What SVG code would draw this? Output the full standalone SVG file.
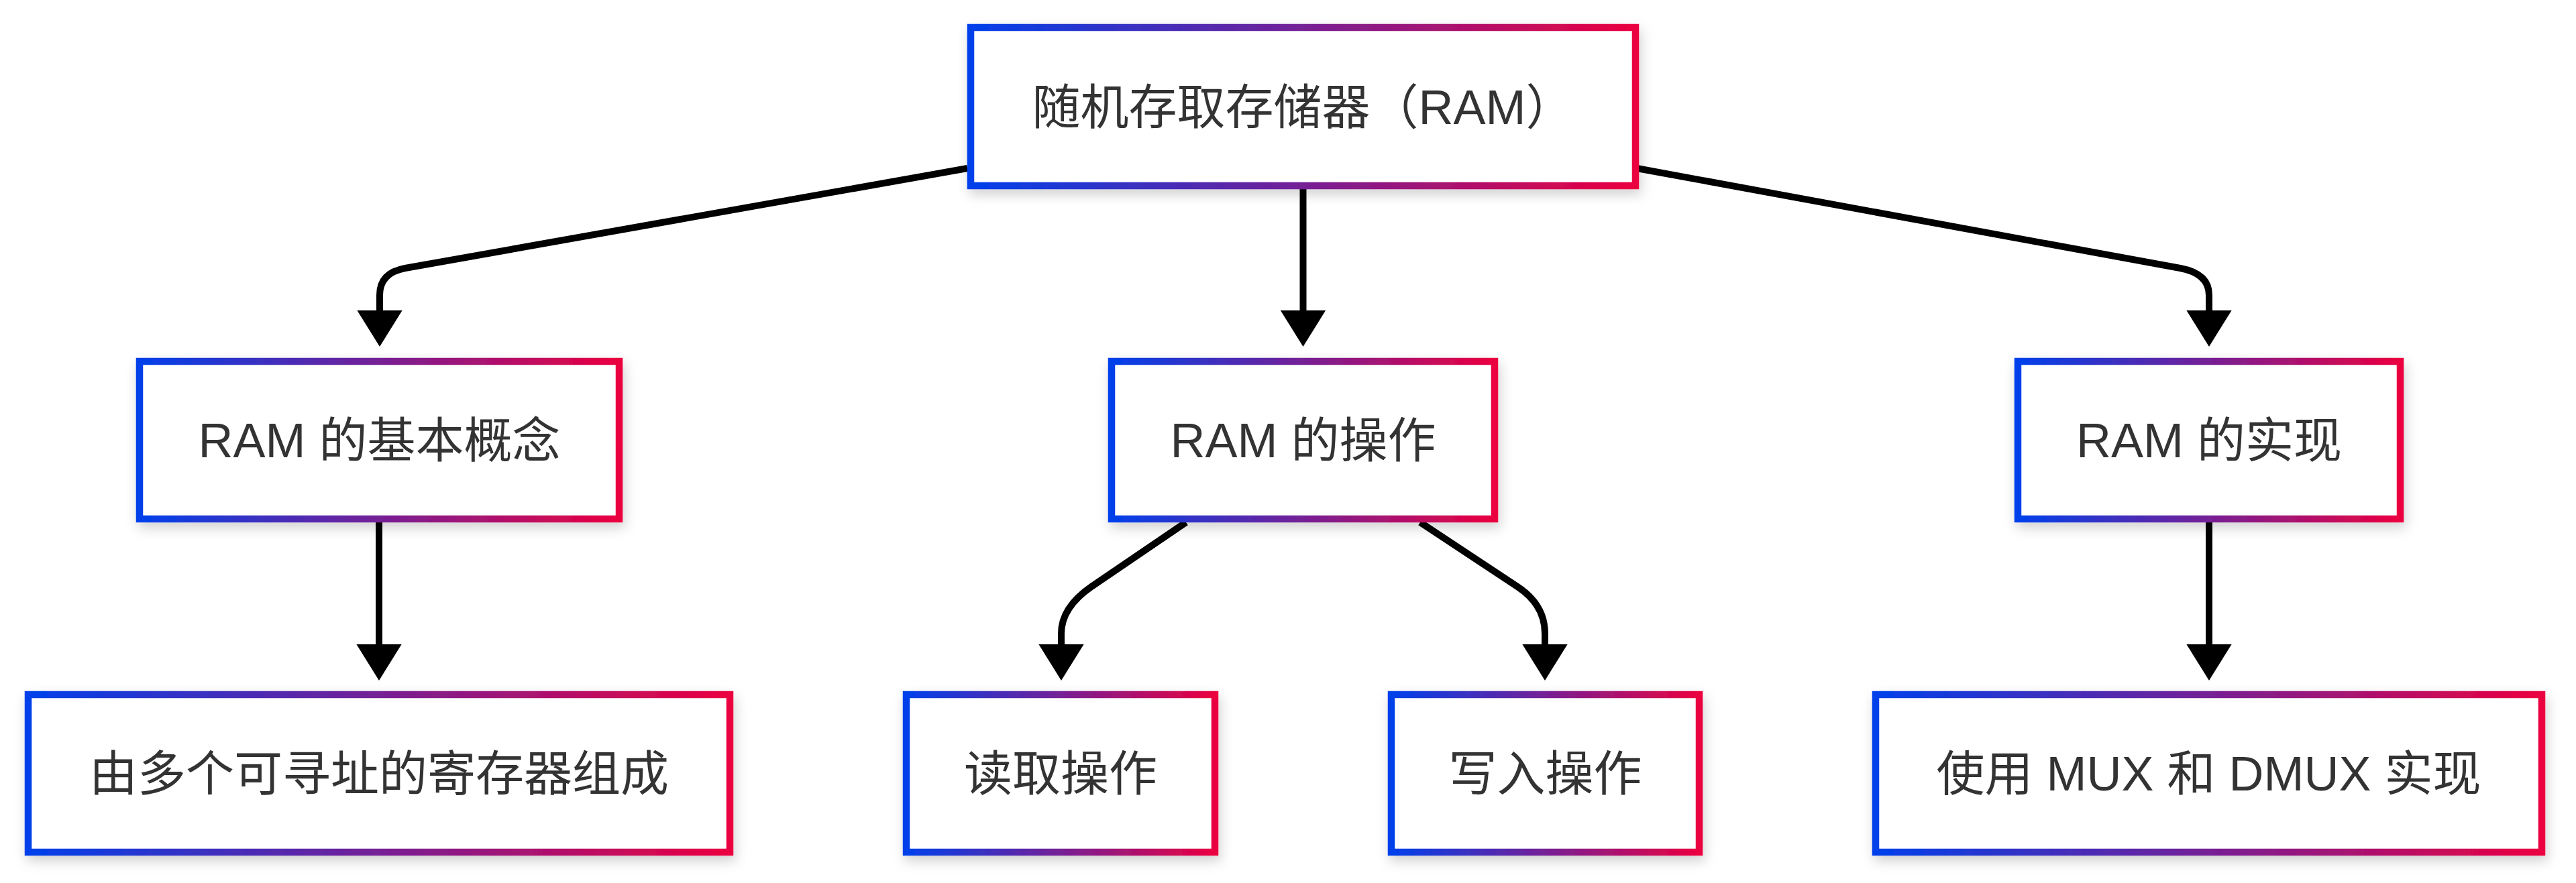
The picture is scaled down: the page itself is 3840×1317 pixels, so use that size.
<svg xmlns="http://www.w3.org/2000/svg" width="3840" height="1317" viewBox="0 0 3840 1317">
<style>
.box{fill:#ffffff;stroke:url(#grad);stroke-width:10.5;filter:url(#shadow)}
.lbl{font-family:"Liberation Sans","Noto Sans CJK SC",sans-serif;font-size:72px;fill:#333333;text-anchor:middle}
.edge{fill:none;stroke:#000000;stroke-width:10;marker-end:url(#arrow)}
</style>
<defs>
<linearGradient id="grad" x1="0" y1="0" x2="1" y2="0">
<stop offset="0" stop-color="#0040EB"/>
<stop offset="1" stop-color="#EB0040"/>
</linearGradient>
<filter id="shadow" x="-10%" y="-20%" width="120%" height="150%">
<feDropShadow dx="3" dy="8" stdDeviation="9" flood-color="#000000" flood-opacity="0.18"/>
</filter>
<marker id="arrow" markerUnits="userSpaceOnUse" markerWidth="54" markerHeight="68" viewBox="0 0 53 66" refX="0" refY="33" orient="auto">
<path d="M0,0 L53,33 L0,66 Z" fill="#000000"/>
</marker>
</defs>
<rect width="3840" height="1317" fill="#ffffff"/>
<g id="connectors">
<path class="edge" d="M1442,251 L604,400 Q566,407 566,440 L566,463"/>
<path class="edge" d="M1942.5,282 L1942.5,463"/>
<path class="edge" d="M2440,251 L3250,400 Q3293,408 3293,440 L3293,463"/>
<path class="edge" d="M565,779 L565,961"/>
<path class="edge" d="M1768,779 L1627,875 Q1582,906 1582,945 L1582,961"/>
<path class="edge" d="M2117,779 L2262,875 Q2303,902 2303,945 L2303,961"/>
<path class="edge" d="M3293,779 L3293,961"/>
</g>
<g id="root">
<rect class="box" x="1447" y="41" width="991" height="236"/>
<text class="lbl" x="1942.5" y="185">随机存取存储器（RAM）</text>
</g>
<g id="concept">
<rect class="box" x="208" y="539" width="715" height="235"/>
<text class="lbl" x="565.5" y="682">RAM 的基本概念</text>
</g>
<g id="ops">
<rect class="box" x="1657" y="539" width="571" height="235"/>
<text class="lbl" x="1942.5" y="682">RAM 的操作</text>
</g>
<g id="impl">
<rect class="box" x="3008" y="539" width="570" height="235"/>
<text class="lbl" x="3293" y="682">RAM 的实现</text>
</g>
<g id="registers">
<rect class="box" x="42" y="1036" width="1046" height="235"/>
<text class="lbl" x="565" y="1179">由多个可寻址的寄存器组成</text>
</g>
<g id="read">
<rect class="box" x="1351" y="1036" width="460" height="235"/>
<text class="lbl" x="1581" y="1179">读取操作</text>
</g>
<g id="write">
<rect class="box" x="2074" y="1036" width="459" height="235"/>
<text class="lbl" x="2303.5" y="1179">写入操作</text>
</g>
<g id="muxdmux">
<rect class="box" x="2796" y="1036" width="993" height="235"/>
<text class="lbl" x="3292.5" y="1179">使用 MUX 和 DMUX 实现</text>
</g>
</svg>
